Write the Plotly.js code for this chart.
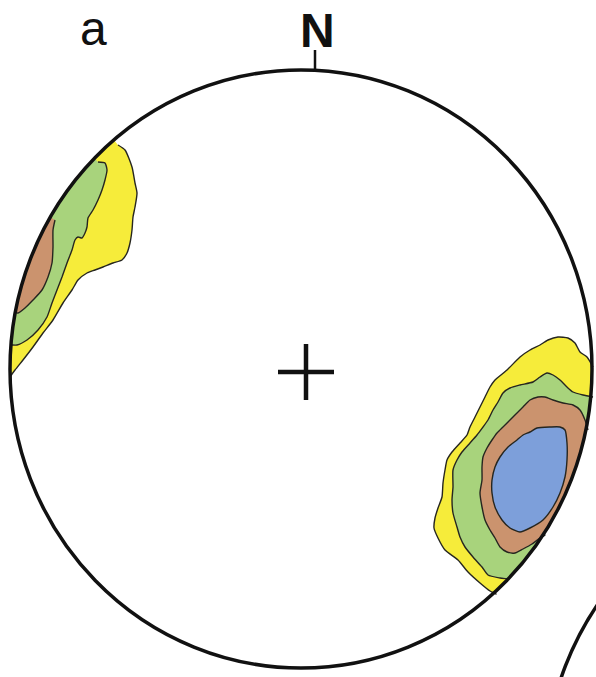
<!DOCTYPE html>
<html><head><meta charset="utf-8">
<script src="https://cdn.plot.ly/plotly-3.0.1.min.js"></script>
<style>html,body{margin:0;padding:0;background:#fff}#chart{width:596px;height:677px}</style>
</head><body><div id="chart"></div>
<script>
// Pole-density contours on an equal-area net (net units: primitive circle radius ~291 x 299)
// Contour levels, outer to inner
const levelNames = ['level 1', 'level 2', 'level 3', 'level 4'];

// ---- North-west cluster (open at the primitive) ----
const nwL1x = [-183,-176,-169,-166,-164,-166,-168,-169,-171,-174,-179,-188,-198,-206,-214,-223,-229,-238,-248,-258,-268,-278,-286,-291];
const nwL1y = [224,219,202,186,176,162,152,139,126,116,109,106,102,99,96,89,79,66,49,36,22,9,-1,-8];
const nwL2x = [-203,-196,-194,-196,-199,-203,-208,-213,-214,-216,-219,-223,-226,-229,-234,-239,-244,-249,-254,-263,-274,-284,-289];
const nwL2y = [207,206,199,189,179,169,159,151,142,136,131,132,129,119,106,92,79,66,52,39,29,24,24];
const nwL3x = [-246,-248,-248,-249,-253,-259,-268,-276,-283];
const nwL3y = [149,139,122,106,92,79,69,61,56];

// ---- South-east cluster ----
const seL1x = [292,286,279,274,267,257,247,239,229,219,206,194,189,184,179,174,169,166,159,151,146,144,142,141,137,134,133,137,144,157,167,179,189,195];
const seL1y = [2,12,17,26,31,32,29,24,19,12,-1,-11,-18,-28,-38,-48,-58,-66,-74,-83,-91,-101,-114,-128,-139,-149,-159,-169,-181,-191,-203,-214,-222,-225];
const seL2x = [292,282,272,266,259,252,246,239,232,219,209,202,197,192,187,182,176,169,161,156,152,152,151,152,156,159,164,172,181,187,199,207];
const seL2y = [-28,-26,-23,-18,-11,-6,-4,-8,-13,-16,-19,-24,-33,-41,-51,-58,-66,-74,-83,-91,-101,-118,-131,-144,-158,-168,-178,-188,-198,-206,-209,-210];
const seL3x = [287,284,279,272,262,252,244,237,229,222,216,209,202,196,191,186,182,181,181,179,181,184,189,194,199,206,214,222,231,239,244];
const seL3y = [-61,-51,-41,-36,-34,-31,-28,-28,-31,-38,-44,-51,-58,-64,-71,-79,-88,-98,-111,-124,-138,-151,-161,-169,-178,-183,-184,-180,-175,-169,-166];
const seL4x = [229,236,249,259,264,266,266,264,259,252,242,229,219,209,201,194,191,191,194,199,207,216,222];
const seL4y = [-63,-59,-58,-58,-61,-74,-91,-108,-124,-138,-151,-159,-163,-159,-151,-138,-124,-111,-98,-88,-78,-71,-66];

// Net centre mark and labels
const centreX = [5], centreY = [-3];
const northLabel = 'N';
const panelLabel = 'a';

// ---- geometry / styles ----
const RX = 291, RY = 299;
const colors = ['#f6ec3a', '#a8d37c', '#cb936e', '#7d9fda'];
const edge = '#262620';

function closeOnNet(xs, ys) {
  const X = xs.slice(), Y = ys.slice();
  const a0 = Math.atan2(ys[ys.length - 1] / RY, xs[xs.length - 1] / RX);
  const a1 = Math.atan2(ys[0] / RY, xs[0] / RX);
  let d = a1 - a0;
  while (d > Math.PI) d -= 2 * Math.PI;
  while (d < -Math.PI) d += 2 * Math.PI;
  const n = 40;
  for (let i = 0; i <= n; i++) {
    const a = a0 + d * i / n;
    X.push(RX * Math.cos(a)); Y.push(RY * Math.sin(a));
  }
  return [X, Y];
}
function poly(xs, ys, lvl, open) {
  const [X, Y] = open ? closeOnNet(xs, ys) : [xs.concat([xs[0]]), ys.concat([ys[0]])];
  return {x: X, y: Y, type: 'scatter', mode: 'lines', fill: 'toself', fillcolor: colors[lvl],
    line: {color: edge, width: 1.4, shape: 'spline', smoothing: 0.6}, hoverinfo: 'skip', name: levelNames[lvl]};
}

const traces = [
  poly(nwL1x, nwL1y, 0, true), poly(nwL2x, nwL2y, 1, true), poly(nwL3x, nwL3y, 2, true),
  poly(seL1x, seL1y, 0, true), poly(seL2x, seL2y, 1, true), poly(seL3x, seL3y, 2, true),
  poly(seL4x, seL4y, 3, false),
  {x: centreX, y: centreY, type: 'scatter', mode: 'markers', hoverinfo: 'skip',
   marker: {symbol: 'cross-thin-open', size: 40, color: '#111', line: {width: 4.5, color: '#111'}}}
];

const layout = {
  width: 596, height: 677, margin: {l: 0, r: 0, t: 0, b: 0},
  paper_bgcolor: '#fff', plot_bgcolor: '#fff', showlegend: false,
  xaxis: {range: [-301, 295], visible: false, fixedrange: true},
  yaxis: {range: [-308, 369], visible: false, fixedrange: true},
  shapes: [
    {type: 'circle', xref: 'x', yref: 'y', x0: -RX, x1: RX, y0: -RY, y1: RY, line: {color: '#111', width: 3.5}},
    {type: 'line', xref: 'x', yref: 'y', x0: 14, x1: 14, y0: RY, y1: RY + 20, line: {color: '#111', width: 2.5}},
    {type: 'circle', xref: 'x', yref: 'y', x0: 244, x1: 826, y0: -706, y1: -108, line: {color: '#111', width: 3.5}}
  ],
  annotations: [
    {x: 16, y: 339, xref: 'x', yref: 'y', text: '<b>' + northLabel + '</b>', showarrow: false,
     font: {family: 'Liberation Sans, Arial, sans-serif', size: 48, color: '#111'}, xanchor: 'center', yanchor: 'middle'},
    {x: -208, y: 341, xref: 'x', yref: 'y', text: panelLabel, showarrow: false,
     font: {family: 'Liberation Sans, Arial, sans-serif', size: 48, color: '#111'}, xanchor: 'center', yanchor: 'middle'}
  ]
};
Plotly.newPlot('chart', traces, layout, {staticPlot: true, displayModeBar: false});
</script>
</body></html>
